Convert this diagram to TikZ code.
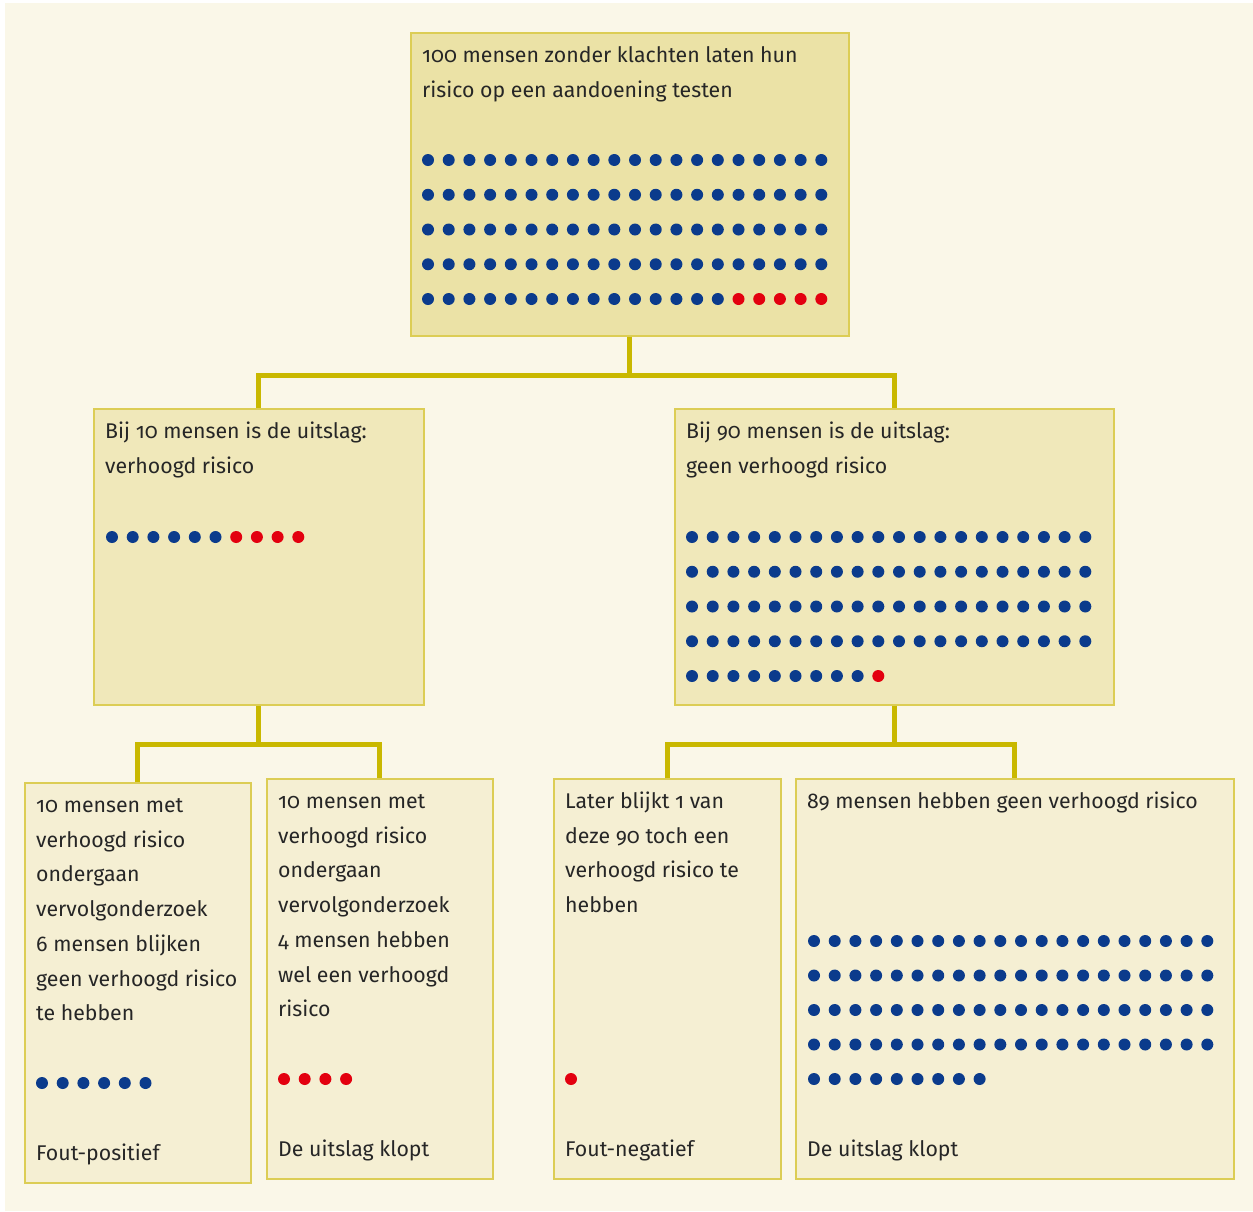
\documentclass[tikz,border=0pt]{standalone}
\usepackage{fontspec}
\setmainfont[Numbers=OldStyle]{Fira Sans}
\usetikzlibrary{positioning}

\definecolor{paper}{HTML}{FAF7E8}
\definecolor{topfill}{HTML}{EBE2A6}
\definecolor{midfill}{HTML}{F0E8BA}
\definecolor{botfill}{HTML}{F5EFD3}
\definecolor{boxline}{HTML}{DCCD55}
\definecolor{link}{HTML}{C9B800}
\definecolor{ink}{HTML}{262626}
\definecolor{pblue}{HTML}{0B3B8C}
\definecolor{pred}{HTML}{E3000F}

\tikzset{
  panel/.style={draw=boxline, line width=1.5pt, inner sep=0pt, anchor=north west},
  note/.style={inner sep=0pt, anchor=north west, align=left, text=ink,
    font=\fontsize{21.3}{34.7}\selectfont},
  tag/.style={note, anchor=base west},
  tree/.style={draw=link, line width=5pt}
}

% one row of people, from index #4 to #5
\newcommand\dotline[6]{%
  \foreach \i in {#4,...,#5}
    \fill[#6] ([shift={(#2+\i*20.7,#3)}]#1.north west) circle (6);}

\begin{document}
\begin{tikzpicture}[x=1pt, y=-1pt]
  \useasboundingbox (0,0) rectangle (1253,1211);
  \fill[paper] (5,3) rectangle (1253,1211);

  % boxes
  \node[panel, fill=topfill, minimum width=438, minimum height=303] (top) at (410,32) {};
  \node[panel, fill=midfill, minimum width=330, minimum height=296] (pos) at (93,408) {};
  \node[panel, fill=midfill, minimum width=439, minimum height=296] (neg) at (674,408) {};
  \node[panel, fill=botfill, minimum width=226, minimum height=400] (fp) at (24,782) {};
  \node[panel, fill=botfill, minimum width=226, minimum height=400] (tp) at (266,778) {};
  \node[panel, fill=botfill, minimum width=227, minimum height=400] (fn) at (553,778) {};
  \node[panel, fill=botfill, minimum width=438, minimum height=400] (tn) at (795,778) {};

  % connectors
  \draw[tree] (top.south) -- ++(0,39) coordinate (j1);
  \draw[tree] (pos.north) |- (j1) -| (neg.north);
  \draw[tree] (pos.south) -- ++(0,39) coordinate (j2);
  \draw[tree] (fp.north) |- (j2) -| (tp.north);
  \draw[tree] (neg.south) -- ++(0,39) coordinate (j3);
  \draw[tree] (fn.north) |- (j3) -| (tn.north);

  % texts
  \node[note] (toptxt) at ([shift={(12,6)}]top.north west)
    {\strut 100 mensen zonder klachten laten hun\\ risico op een aandoening testen};
  \node[note] (postxt) at ([shift={(12,6)}]pos.north west)
    {\strut Bij 10 mensen is de uitslag:\\ verhoogd risico};
  \node[note] (negtxt) at ([shift={(12,6)}]neg.north west)
    {\strut Bij 90 mensen is de uitslag:\\ geen verhoogd risico};
  \node[note] (fptxt) at ([shift={(12,6)}]fp.north west)
    {\strut 10 mensen met\\ verhoogd risico\\ ondergaan\\ vervolgonderzoek\\
     6 mensen blijken\\ geen verhoogd risico\\ te hebben};
  \node[note] (tptxt) at ([shift={(12,6)}]tp.north west)
    {\strut 10 mensen met\\ verhoogd risico\\ ondergaan\\ vervolgonderzoek\\
     4 mensen hebben\\ wel een verhoogd\\ risico};
  \node[note] (fntxt) at ([shift={(12,6)}]fn.north west)
    {\strut Later blijkt 1 van\\ deze 90 toch een\\ verhoogd risico te\\ hebben};
  \node[note] (tntxt) at ([shift={(12,6)}]tn.north west)
    {\strut 89 mensen hebben geen verhoogd risico};

  \node[tag] (fplbl) at ([shift={(12,-23)}]fp.south west) {Fout-positief};
  \node[tag] (tplbl) at ([shift={(12,-23)}]tp.south west) {De uitslag klopt};
  \node[tag] (fnlbl) at ([shift={(12,-23)}]fn.south west) {Fout-negatief};
  \node[tag] (tnlbl) at ([shift={(12,-23)}]tn.south west) {De uitslag klopt};

  % people
  \foreach \r in {0,...,3}
    \dotline{top}{18}{128+\r*34.75}{0}{19}{pblue};
  \dotline{top}{18}{267}{0}{14}{pblue}
  \dotline{top}{18}{267}{15}{19}{pred}

  \dotline{pos}{19}{129}{0}{5}{pblue}
  \dotline{pos}{19}{129}{6}{9}{pred}

  \foreach \r in {0,...,3}
    \dotline{neg}{18}{129+\r*34.75}{0}{19}{pblue};
  \dotline{neg}{18}{268}{0}{8}{pblue}
  \dotline{neg}{18}{268}{9}{9}{pred}

  \dotline{fp}{18}{301}{0}{5}{pblue}
  \dotline{tp}{18}{301}{0}{3}{pred}
  \dotline{fn}{18}{301}{0}{0}{pred}

  \foreach \r in {0,...,3}
    \dotline{tn}{19}{163+\r*34.5}{0}{19}{pblue};
  \dotline{tn}{19}{301}{0}{8}{pblue}
\end{tikzpicture}
\end{document}
